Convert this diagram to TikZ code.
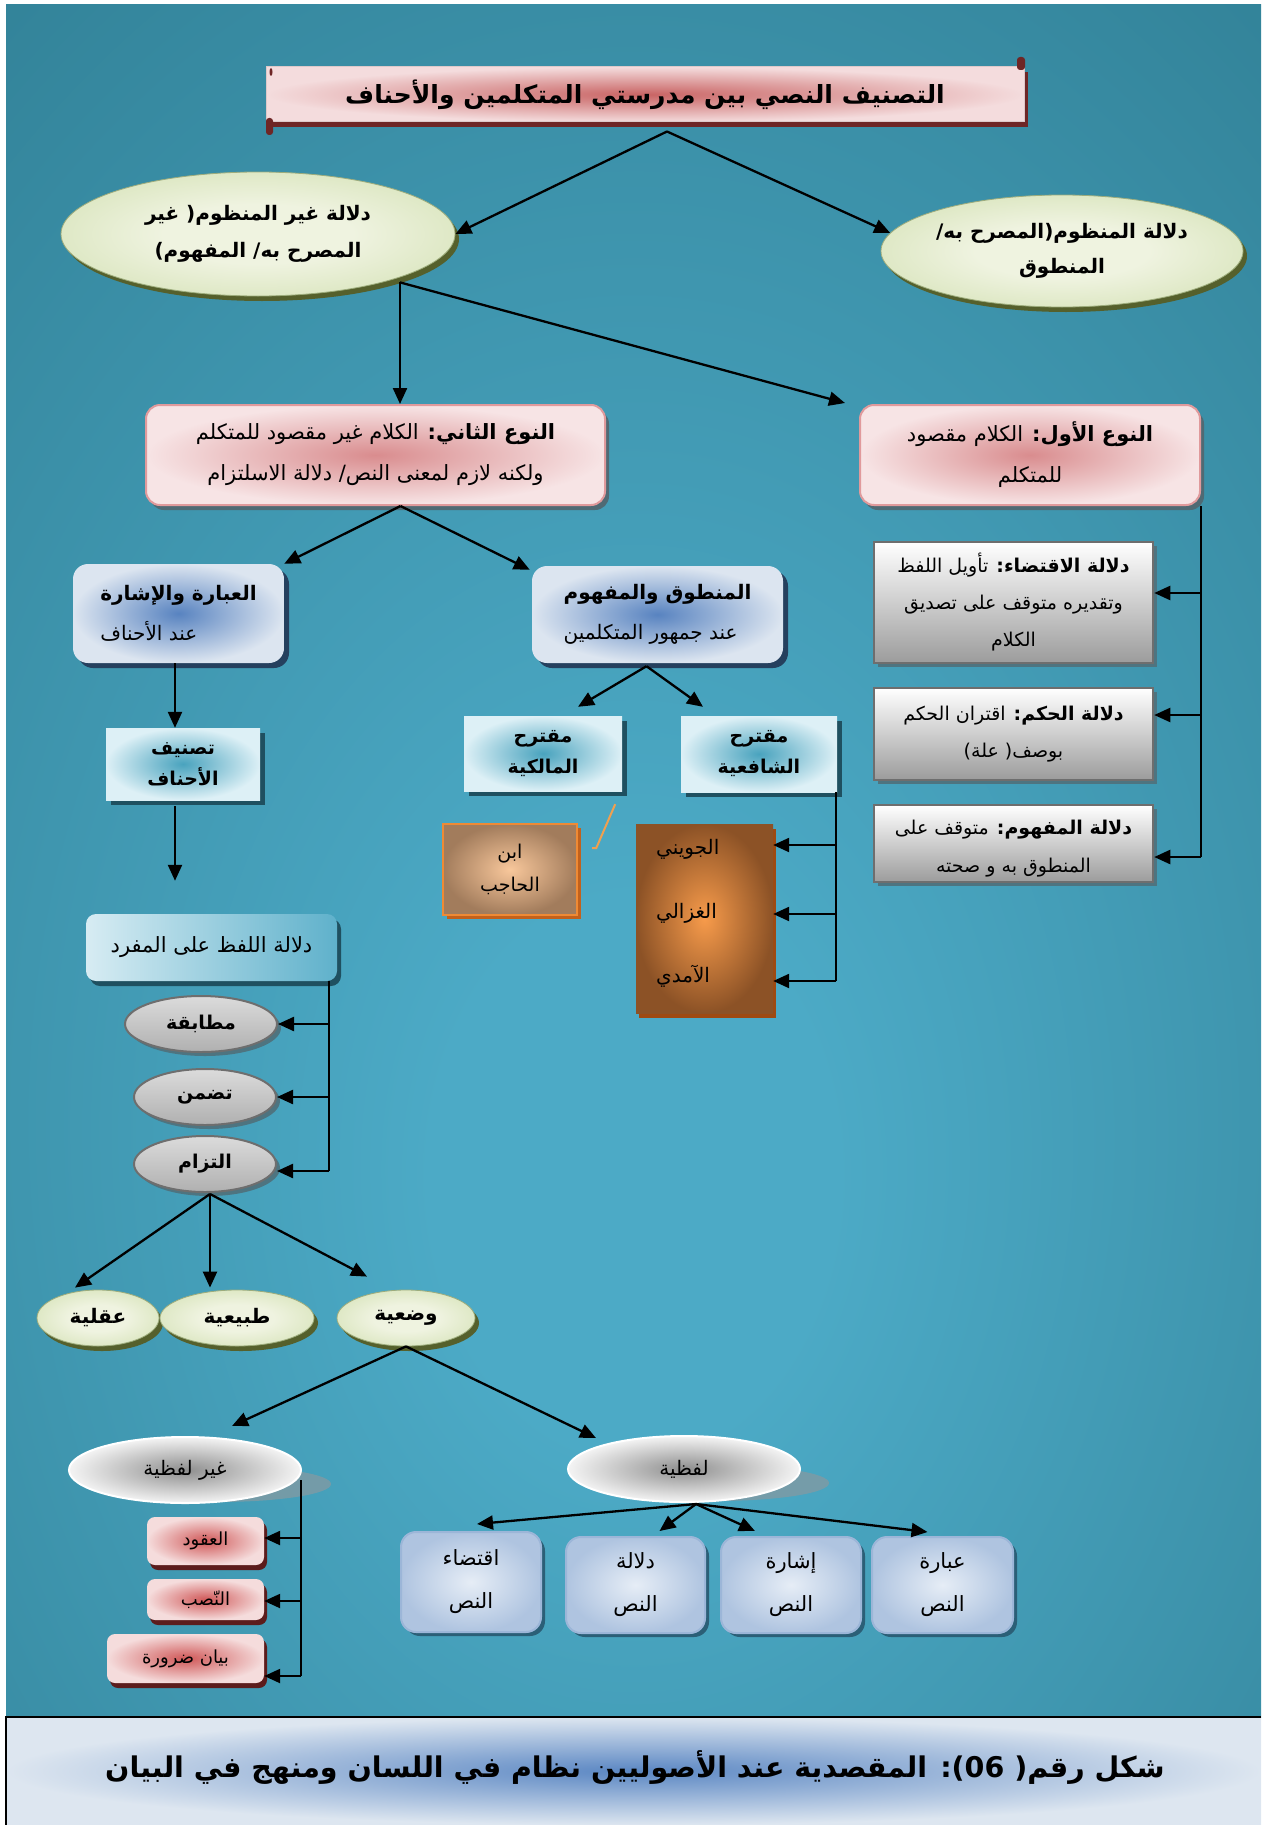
\documentclass[tikz,border=0pt]{standalone}
\usepackage{fontspec}
\newfontfamily\arfont[Script=Arabic]{DejaVu Sans}
\TeXXeTstate=1
\usetikzlibrary{arrows.meta,shadows,calc,shapes.geometric}

% Arabic text helpers (right-to-left runs)
\newcommand\AR[1]{{\arfont\beginR #1\endR}}
\newcommand\ARB[1]{{\arfont\bfseries\beginR #1\endR}}
\newcommand\fsz[2]{\fontsize{#1}{#2}\selectfont}

% palette
\definecolor{bgdark}{HTML}{2E7C91}
\definecolor{bglight}{HTML}{4CAAC6}
\definecolor{titlered}{HTML}{C96464}
\definecolor{titlepink}{HTML}{F4DCDD}
\definecolor{scrollred}{HTML}{6E2626}
\definecolor{pinkin}{HTML}{D98C8E}
\definecolor{pinkout}{HTML}{F7E4E5}
\definecolor{pinkedge}{HTML}{E09A9C}
\definecolor{pinkshadow}{HTML}{4F6A74}
\definecolor{bluein}{HTML}{5883C0}
\definecolor{blueout}{HTML}{DCE5F0}
\definecolor{blueshadow}{HTML}{25405E}
\definecolor{cyanin}{HTML}{49A3BE}
\definecolor{cyanout}{HTML}{DDF0F6}
\definecolor{cyanshadow}{HTML}{1F5060}
\definecolor{graybot}{HTML}{9C9C9C}
\definecolor{grayedge}{HTML}{6E6E6E}
\definecolor{brownin}{HTML}{F8C79B}
\definecolor{brownout}{HTML}{A27C5C}
\definecolor{brownedge}{HTML}{EE8A35}
\definecolor{brownshadow}{HTML}{C2611C}
\definecolor{orin}{HTML}{F79B4B}
\definecolor{orout}{HTML}{8C5226}
\definecolor{orshadow}{HTML}{9E4A12}
\definecolor{lafzlight}{HTML}{D7ECF3}
\definecolor{lafzdark}{HTML}{5FB1CB}
\definecolor{ellshadow}{HTML}{4E7480}
\definecolor{greenin}{HTML}{EFF3E0}
\definecolor{greenout}{HTML}{C4D79B}
\definecolor{greenshadow}{HTML}{55602C}
\definecolor{wellin}{HTML}{8E8E8E}
\definecolor{wellout}{HTML}{F4F4F4}
\definecolor{wellshadow}{HTML}{7D9BA5}
\definecolor{sbin}{HTML}{E6EDF6}
\definecolor{sbout}{HTML}{AFC4E0}
\definecolor{sbedge}{HTML}{9CB6D8}
\definecolor{sbshadow}{HTML}{2B5F77}
\definecolor{spin}{HTML}{D05858}
\definecolor{spout}{HTML}{F5DCDC}
\definecolor{spshadow}{HTML}{5C1C1C}
\definecolor{capin}{HTML}{5B87C3}
\definecolor{capout}{HTML}{DDE6F0}
\definecolor{slash}{HTML}{F0A050}

\pgfdeclareradialshading{bgshade}{\pgfpoint{0bp}{-10bp}}{%
  color(0bp)=(bglight); color(8bp)=(bglight); color(46bp)=(bgdark); color(100bp)=(bgdark)}
\pgfdeclareradialshading{greenshade}{\pgfpoint{0bp}{0bp}}{%
  color(0bp)=(greenin); color(12bp)=(greenin); color(46bp)=(greenout); color(60bp)=(greenout)}

\tikzset{
  conn/.style={draw=black,line width=2.3pt},
  arr/.style={conn,-{Triangle[length=16pt,width=14pt]}},
  sh/.style n args={3}{general shadow={fill=#1,shadow xshift=#2,shadow yshift=#3}},
  titlebox/.style={rectangle,inner sep=0pt,inner color=titlered,outer color=titlepink,
    draw=titlepink!80!gray,line width=1pt,sh={scrollred}{4pt}{-5pt}},
  pinkbox/.style={rectangle,rounded corners=14pt,inner sep=0pt,align=center,
    inner color=pinkin,outer color=pinkout,draw=pinkedge,line width=2pt,
    sh={pinkshadow}{4pt}{-5pt},font={\fsz{21}{41}}},
  bluebox/.style={rectangle,rounded corners=15pt,inner sep=0pt,align=left,
    inner color=bluein,outer color=blueout,sh={blueshadow}{5pt}{-5pt},font={\fsz{20}{40}}},
  cyanbox/.style={rectangle,inner sep=0pt,align=center,inner color=cyanin,outer color=cyanout,
    sh={cyanshadow}{5pt}{-5pt},font={\fsz{19}{31}}},
  graybox/.style={rectangle,inner sep=0pt,align=center,top color=white,bottom color=graybot,
    draw=grayedge,line width=2.5pt,sh={ellshadow}{4pt}{-4pt},font={\fsz{19}{37}}},
  brownbox/.style={rectangle,inner sep=0pt,align=center,inner color=brownin,outer color=brownout,
    draw=brownedge,line width=2pt,sh={brownshadow}{4pt}{-4pt},font={\fsz{19}{33}}},
  orbox/.style={rectangle,inner sep=0pt,inner color=orin,outer color=orout,sh={orshadow}{3pt}{-5pt}},
  lafzbox/.style={rectangle,rounded corners=10pt,inner sep=0pt,left color=lafzlight,right color=lafzdark,
    sh={cyanshadow}{4pt}{-5pt},font={\fsz{21}{30}}},
  grayell/.style={ellipse,inner sep=0pt,top color=gray!28,bottom color=gray!62,draw=grayedge,
    line width=2pt,sh={ellshadow}{4pt}{-4pt},font={\fsz{19}{28}}},
  greenell/.style={ellipse,inner sep=0pt,align=center,shading=greenshade,
    draw=greenout!80!black,line width=0.8pt,sh={greenshadow}{4pt}{-5pt}},
  whiteell/.style={ellipse,inner sep=0pt,inner color=wellin,outer color=wellout,draw=white,
    line width=2pt,font={\fsz{20}{30}}},
  wshadow/.style={fill=wellshadow,opacity=0.85},
  stepbox/.style={rectangle,rounded corners=15pt,inner sep=0pt,align=center,inner color=sbin,
    outer color=sbout,draw=sbedge,line width=2pt,sh={sbshadow}{4pt}{-4pt},font={\fsz{21}{43}}},
  smallpink/.style={rectangle,rounded corners=8pt,inner sep=0pt,inner color=spin,outer color=spout,
    sh={spshadow}{3pt}{-5pt},font={\fsz{18}{28}}},
}

\begin{document}
\begin{tikzpicture}[x=1pt,y=-1pt]
\useasboundingbox (0,0) rectangle (1261,1825);
\fill[white] (0,0) rectangle (1261,1825);
\shade[shading=bgshade] (6,5) rectangle (1261,1717);

% ---------- title scroll ----------
\node[titlebox,minimum width=758,minimum height=55] (title) at (645,94.5)
  {\fsz{25}{32}\ARB{التصنيف النصي بين مدرستي المتكلمين والأحناف}};
\fill[scrollred,rounded corners=3pt] (1017,57) rectangle (1025,70);
\fill[scrollred,rounded corners=3pt] (266,118) rectangle (273,135);
\fill[scrollred] (271,72) ellipse [x radius=1.5,y radius=4];

% ---------- first level ----------
\node[greenell,minimum width=394,minimum height=124,font={\fsz{20}{37}}] (gL) at (258,234)
  {\ARB{دلالة غير المنظوم( غير}\\\ARB{المصرح به/ المفهوم)}};
\node[greenell,minimum width=362,minimum height=112,font={\fsz{20}{35}}] (gR) at (1062,251)
  {\ARB{دلالة المنظوم(المصرح به/}\\\ARB{المنطوق}};

\coordinate (apex) at ($(title.south)+(22,9)$);
\draw[arr] (apex) -- (gL.east);
\draw[arr] (apex) -- (gR.174);

% ---------- two kinds ----------
\node[pinkbox,minimum width=459,minimum height=100] (type2) at (375.5,455)
  {\AR{\textbf{النوع الثاني:} الكلام غير مقصود للمتكلم}\\\AR{ولكنه لازم لمعنى النص/ دلالة الاسلتزام}};
\node[pinkbox,minimum width=340,minimum height=100] (type1) at (1030,455)
  {\AR{\textbf{النوع الأول:} الكلام مقصود}\\\AR{للمتكلم}};

\coordinate (gLfoot) at ($(gL.south)+(142,-14)$);
\draw[arr] (gLfoot) -- (gLfoot |- type2.north);
\draw[arr] (gLfoot) -- ($(type1.north west)+(-14,-1)$);

% ---------- right column ----------
\node[graybox,minimum width=279,minimum height=121] (gA) at (1013.5,602.5)
  {\AR{\textbf{دلالة الاقتضاء:} تأويل اللفظ}\\\AR{وتقديره متوقف على تصديق}\\\AR{الكلام}};
\node[graybox,minimum width=279,minimum height=92] (gB) at (1013.5,734)
  {\AR{\textbf{دلالة الحكم:} اقتران الحكم}\\\AR{بوصف( علة)}};
\node[graybox,minimum width=279,minimum height=77] (gC) at (1013.5,843.5) {};
\begin{scope}
  \clip ($(gC.north west)+(2,2)$) rectangle ($(gC.south east)+(-2,-4)$);
  \node[align=center,font={\fsz{19}{38}}] (gCtext) at (1013.5,849)
    {\AR{\textbf{دلالة المفهوم:} متوقف على}\\\AR{المنطوق به و صحته}};
\end{scope}

\draw[conn] (type1.south east) -- ($(type1.south east |- gC.east)+(0,13.5)$);
\draw[arr] ($(type1.south east |- gA.east)+(0,-9.5)$) -- ($(gA.east)+(0,-9.5)$);
\draw[arr] ($(type1.south east |- gB.east)+(0,-19)$) -- ($(gB.east)+(0,-19)$);
\draw[arr] ($(type1.south east |- gC.east)+(0,13.5)$) -- ($(gC.east)+(0,13.5)$);

% ---------- second kind branches ----------
\node[bluebox,minimum width=211,minimum height=99] (ebara) at (178.5,613.5)
  {\ARB{العبارة والإشارة}\\\AR{عند الأحناف}};
\node[bluebox,minimum width=251,minimum height=97] (mantuq) at (657.5,614.5)
  {\ARB{المنطوق والمفهوم}\\\AR{عند جمهور المتكلمين}};

\coordinate (t2foot) at ($(type2.south)+(25,0)$);
\draw[arr] (t2foot) -- (ebara.north east);
\draw[arr] (t2foot) -- ($(mantuq.north west)+(-2,4)$);

\node[cyanbox,minimum width=154,minimum height=72] (tasnif) at (183,764)
  {\ARB{تصنيف}\\\ARB{الأحناف}};
\coordinate (ebfoot) at ($(ebara.south)+(-3.5,0)$);
\draw[arr] (ebfoot) -- (ebfoot |- tasnif.north);

\node[lafzbox,minimum width=251,minimum height=67] (lafz) at (211.5,947.5)
  {\AR{دلالة اللفظ على المفرد}};
\coordinate (tsfoot) at ($(tasnif.south)+(-8,6)$);
\draw[arr,shorten >=33pt] (tsfoot) -- (tsfoot |- lafz.north);

\node[grayell,minimum width=152,minimum height=56] (mut) at (201,1024) {\ARB{مطابقة}};
\node[grayell,minimum width=142,minimum height=56] (tad) at (205,1097) {\ARB{تضمن}};
\node[grayell,minimum width=142,minimum height=56] (ilt) at (205,1164) {\ARB{التزام}};

\coordinate (lzfoot) at ($(lafz.south east)+(-8,0)$);
\draw[conn] (lzfoot) -- ($(lzfoot |- ilt.east)+(0,7)$);
\draw[arr] (lzfoot |- mut.east) -- (mut.east);
\draw[arr] (lzfoot |- tad.east) -- (tad.east);
\draw[arr] ($(lzfoot |- ilt.east)+(0,7)$) -- ($(ilt.east)+(0,7)$);

\node[greenell,minimum width=122,minimum height=56,font={\fsz{20}{30}}] (aql) at (98,1318) {\ARB{عقلية}};
\node[greenell,minimum width=154,minimum height=56,font={\fsz{20}{30}}] (tab) at (237,1318) {\ARB{طبيعية}};
\node[greenell,minimum width=138,minimum height=56,font={\fsz{20}{30}}] (wad) at (406,1318) {\ARB{وضعية}};

\coordinate (iltfoot) at ($(ilt.south)+(5,1)$);
\draw[arr] (iltfoot) -- ($(aql.north)+(-23,-2)$);
\draw[arr] (iltfoot) -- ($(tab.north)+(-27,-2)$);
\draw[arr] (iltfoot) -- ($(wad.north)+(-39,-13)$);

% ---------- verbal / non-verbal ----------
\fill[wshadow] (217,1484) ellipse [x radius=114,y radius=18];
\fill[wshadow] (715,1483) ellipse [x radius=114,y radius=18];
\node[whiteell,minimum width=232,minimum height=66] (ghayr) at (185,1470) {\AR{غير لفظية}};
\node[whiteell,minimum width=232,minimum height=66] (lafziya) at (684,1469) {\AR{لفظية}};

\draw[arr] (wad.south) -- ($(ghayr.north)+(47,-10)$);
\draw[arr] (wad.south) -- ($(lafziya.north)+(-88,3)$);

\node[smallpink,minimum width=117,minimum height=48] (uq) at (205.5,1541) {\AR{العقود}};
\node[smallpink,minimum width=117,minimum height=41] (nas) at (205.5,1599.5) {\AR{النّصب}};
\node[smallpink,minimum width=157,minimum height=49] (bay) at (185.5,1658.5) {\AR{بيان ضرورة}};

\coordinate (ghfoot) at ($(ghayr.east)+(-1,10)$);
\draw[conn] (ghfoot) -- ($(ghfoot |- bay.east)+(0,17.5)$);
\draw[arr] ($(ghfoot |- uq.east)+(0,-3)$) -- ($(uq.east)+(0,-3)$);
\draw[arr] ($(ghfoot |- nas.east)+(0,1.5)$) -- ($(nas.east)+(0,1.5)$);
\draw[arr] ($(ghfoot |- bay.east)+(0,17.5)$) -- ($(bay.east)+(0,17.5)$);

\node[stepbox,minimum width=140,minimum height=100] (iq) at (471,1582) {\AR{اقتضاء}\\\AR{النص}};
\node[stepbox,minimum width=139,minimum height=96] (dl) at (635.5,1585) {\AR{دلالة}\\\AR{النص}};
\node[stepbox,minimum width=140,minimum height=96] (ish) at (791,1585) {\AR{إشارة}\\\AR{النص}};
\node[stepbox,minimum width=141,minimum height=96] (ib) at (942.5,1585) {\AR{عبارة}\\\AR{النص}};

\coordinate (lzyfoot) at ($(lafziya.south)+(12,1)$);
\draw[arr] (lzyfoot) -- ($(iq.north)+(6,-7)$);
\draw[arr] (lzyfoot) -- ($(dl.north)+(24,-5)$);
\draw[arr] (lzyfoot) -- ($(ish.north)+(-36,-5)$);
\draw[arr] (lzyfoot) -- ($(ib.north)+(-15,-4)$);

% ---------- proposals of the schools ----------
\node[cyanbox,minimum width=158,minimum height=75] (maliki) at (543,753.5)
  {\ARB{مقترح}\\\ARB{المالكية}};
\node[cyanbox,minimum width=156,minimum height=76] (shafii) at (759,754)
  {\ARB{مقترح}\\\ARB{الشافعية}};

\coordinate (mfoot) at ($(mantuq.south)+(-11,3)$);
\draw[arr] (mfoot) -- ($(maliki.north)+(35,-9)$);
\draw[arr] (mfoot) -- ($(shafii.north)+(-56,-9)$);

\draw[slash,line width=2pt] ($(maliki.south east)+(-7,13)$) -- ++(-19,44) -- ++(-4,0);

\node[brownbox,minimum width=134,minimum height=91] (ibn) at (510,869.5) {\AR{ابن}\\\AR{الحاجب}};

\node[orbox,minimum width=137,minimum height=189] (tall) at (704.5,918.5) {};
\node[anchor=west,inner sep=0pt,font={\fsz{20}{28}}] (n1) at (656,849) {\AR{الجويني}};
\node[anchor=west,inner sep=0pt,font={\fsz{20}{28}}] (n2) at (656,913) {\AR{الغزالي}};
\node[anchor=west,inner sep=0pt,font={\fsz{20}{28}}] (n3) at (656,976) {\AR{الآمدي}};

\coordinate (sfoot) at ($(shafii.south east)+(-1,0)$);
\draw[conn] (sfoot) -- ($(sfoot |- n3.west)+(0,5)$);
\draw[arr] ($(sfoot |- n1.west)+(0,-4)$) -- ($(tall.east |- n1.west)+(0,-4)$);
\draw[arr] ($(sfoot |- n2.west)+(0,1)$) -- ($(tall.east |- n2.west)+(0,1)$);
\draw[arr] ($(sfoot |- n3.west)+(0,5)$) -- ($(tall.east |- n3.west)+(0,5)$);

% ---------- caption ----------
\node[rectangle,inner sep=0pt,minimum width=1255,minimum height=108,inner color=capin,outer color=capout]
  (capbox) at (633.5,1771) {};
\draw[black,line width=1.6pt] (capbox.south west) -- (capbox.north west) -- (capbox.north east);
\node[font={\fsz{28.5}{36}}] (caption) at (635,1768)
  {\ARB{شكل رقم( 06): المقصدية عند الأصوليين نظام في اللسان ومنهج في البيان}};
\end{tikzpicture}
\end{document}
